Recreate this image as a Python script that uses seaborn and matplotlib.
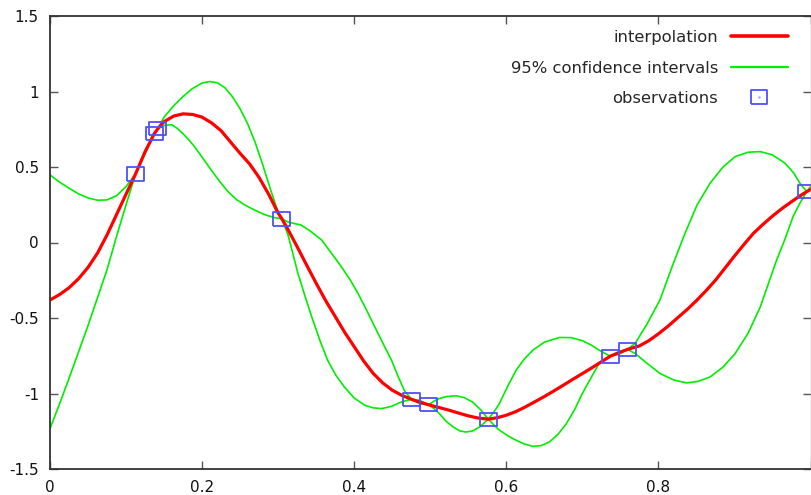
import matplotlib
matplotlib.use("Agg")
import matplotlib.pyplot as plt
import seaborn as sns
from matplotlib.lines import Line2D

# -----------------------------
# values
# -----------------------------
mean_x = [0, 0.0125, 0.025, 0.0375, 0.05, 0.0625, 0.075, 0.0875, 0.1, 0.1125, 0.125, 0.137,
          0.142, 0.15, 0.1625, 0.175, 0.1875, 0.2, 0.2125, 0.225, 0.2375, 0.25, 0.2625, 0.275,
          0.2875, 0.3, 0.305, 0.3125, 0.325, 0.3375, 0.35, 0.3625, 0.375, 0.3875, 0.4, 0.4125,
          0.425, 0.4375, 0.45, 0.4625, 0.475, 0.4865, 0.498, 0.5125, 0.525, 0.5375, 0.55,
          0.5625, 0.5765, 0.5875, 0.6, 0.6125, 0.625, 0.6375, 0.65, 0.6625, 0.675, 0.6875,
          0.7, 0.7125, 0.725, 0.7367, 0.748, 0.7594, 0.775, 0.7875, 0.8, 0.8125, 0.825,
          0.8375, 0.85, 0.8625, 0.875, 0.8875, 0.9, 0.9125, 0.925, 0.9375, 0.95, 0.9625,
          0.975, 0.985, 0.995, 1.0]
mean_y = [-0.381, -0.345, -0.30, -0.24, -0.165, -0.07, 0.05, 0.185, 0.32, 0.454, 0.60, 0.72,
          0.755, 0.80, 0.837, 0.852, 0.848, 0.83, 0.792, 0.74, 0.665, 0.59, 0.52, 0.43,
          0.32, 0.195, 0.156, 0.09, -0.028, -0.15, -0.27, -0.385, -0.49, -0.595, -0.69, -0.785,
          -0.867, -0.93, -0.978, -1.012, -1.038, -1.058, -1.075, -1.094, -1.111, -1.13, -1.148,
          -1.162, -1.17, -1.161, -1.144, -1.12, -1.089, -1.055, -1.02, -0.983, -0.945, -0.906,
          -0.868, -0.83, -0.79, -0.753, -0.73, -0.708, -0.685, -0.65, -0.605, -0.555, -0.50,
          -0.445, -0.385, -0.32, -0.25, -0.17, -0.09, -0.013, 0.061, 0.12, 0.175, 0.225,
          0.27, 0.305, 0.337, 0.35]

upper_x = [0, 0.0125, 0.025, 0.0375, 0.05, 0.0625, 0.075, 0.0875, 0.1, 0.1125, 0.125, 0.137,
           0.142, 0.15, 0.1625, 0.175, 0.1875, 0.2, 0.21, 0.22, 0.23, 0.24, 0.25, 0.26, 0.27,
           0.28, 0.29, 0.3, 0.305, 0.3125, 0.32, 0.33, 0.3425, 0.357, 0.37, 0.383, 0.395, 0.405,
           0.416, 0.427, 0.438, 0.449, 0.458, 0.466, 0.475, 0.4865, 0.498, 0.505, 0.512, 0.522,
           0.534, 0.545, 0.556, 0.567, 0.5765, 0.584, 0.591, 0.602, 0.613, 0.624, 0.635, 0.65,
           0.67, 0.685, 0.70, 0.712, 0.722, 0.7367, 0.748, 0.7594, 0.7695, 0.785, 0.802, 0.818,
           0.835, 0.851, 0.868, 0.885, 0.901, 0.918, 0.934, 0.95, 0.9665, 0.978, 0.986, 0.995, 1.0]
upper_y = [0.448, 0.40, 0.36, 0.322, 0.295, 0.28, 0.282, 0.31, 0.37, 0.454, 0.61, 0.72,
           0.755, 0.83, 0.905, 0.967, 1.02, 1.056, 1.066, 1.058, 1.025, 0.965, 0.885, 0.785, 0.66,
           0.51, 0.35, 0.2, 0.156, 0.137, 0.127, 0.116, 0.075, 0.017, -0.07, -0.16, -0.25, -0.337,
           -0.445, -0.558, -0.67, -0.779, -0.89, -0.98, -1.038, -1.046, -1.075, -1.05, -1.033, -1.02,
           -1.015, -1.028, -1.058, -1.111, -1.17, -1.12, -1.066, -0.95, -0.845, -0.77, -0.713, -0.66,
           -0.629, -0.63, -0.65, -0.68, -0.713, -0.753, -0.722, -0.708, -0.668, -0.54, -0.381, -0.16,
           0.061, 0.25, 0.393, 0.50, 0.569, 0.598, 0.602, 0.58, 0.525, 0.46, 0.393, 0.337, 0.352]

lower_x = [0, 0.0125, 0.025, 0.0375, 0.05, 0.0625, 0.075, 0.0875, 0.1, 0.1125, 0.125, 0.137,
           0.142, 0.15, 0.16, 0.1675, 0.175, 0.1825, 0.19, 0.2, 0.212, 0.223, 0.234, 0.245, 0.256,
           0.269, 0.282, 0.295, 0.305, 0.313, 0.326, 0.335, 0.344, 0.355, 0.365, 0.376, 0.387,
           0.4, 0.414, 0.425, 0.436, 0.449, 0.462, 0.475, 0.4865, 0.498, 0.505, 0.512, 0.521,
           0.530, 0.539, 0.547, 0.556, 0.565, 0.5765, 0.584, 0.591, 0.602, 0.613, 0.624, 0.635,
           0.646, 0.657, 0.668, 0.679, 0.69, 0.70, 0.711, 0.722, 0.7367, 0.748, 0.7594, 0.7695,
           0.785, 0.802, 0.82, 0.837, 0.852, 0.868, 0.885, 0.901, 0.918, 0.934, 0.9555, 0.967,
           0.977, 0.986, 0.995, 1.0]
lower_y = [-1.232, -1.07, -0.90, -0.725, -0.55, -0.365, -0.18, 0.04, 0.25, 0.454, 0.59, 0.72,
           0.755, 0.775, 0.78, 0.755, 0.72, 0.68, 0.635, 0.565, 0.48, 0.405, 0.337, 0.285, 0.249,
           0.215, 0.185, 0.165, 0.156, 0.05, -0.204, -0.35, -0.49, -0.65, -0.779, -0.88, -0.956,
           -1.03, -1.078, -1.095, -1.10, -1.085, -1.056, -1.038, -1.068, -1.075, -1.10, -1.133, -1.185,
           -1.221, -1.248, -1.255, -1.248, -1.221, -1.17, -1.21, -1.243, -1.28, -1.31, -1.335, -1.35,
           -1.345, -1.32, -1.27, -1.20, -1.105, -1.0, -0.90, -0.80, -0.753, -0.74, -0.708, -0.735,
           -0.80, -0.867, -0.91, -0.93, -0.92, -0.89, -0.825, -0.735, -0.60, -0.426, -0.116, 0.03,
           0.171, 0.26, 0.337, 0.37]

obs_x = [0.1125, 0.137, 0.142, 0.305, 0.475, 0.498, 0.5765, 0.7367, 0.7594, 0.995]
obs_y = [0.454, 0.72, 0.755, 0.156, -1.038, -1.075, -1.17, -0.753, -0.708, 0.337]

xticks = [0, 0.2, 0.4, 0.6, 0.8, 1.0]
xtick_labels = ['0', '0.2', '0.4', '0.6', '0.8', '']
yticks = [-1.5, -1, -0.5, 0, 0.5, 1, 1.5]
ytick_labels = ['-1.5', '-1', '-0.5', '0', '0.5', '1', '1.5']

labels = ['interpolation', '95% confidence intervals', 'observations']

RED = '#ff0000'
GREEN = '#00ee00'
BLUE = '#4f4fff'
AXIS = '#333333'

# -----------------------------
# plot
# -----------------------------
sns.set_style("ticks")
plt.rcParams['font.family'] = ['DejaVu Sans']

fig = plt.figure(figsize=(8.11, 4.95), dpi=100)
ax = fig.add_axes([50 / 811, 26 / 495, 760.5 / 811, 453 / 495])

sns.lineplot(x=upper_x, y=upper_y, ax=ax, color=GREEN, linewidth=1.2, sort=False, estimator=None)
sns.lineplot(x=lower_x, y=lower_y, ax=ax, color=GREEN, linewidth=1.2, sort=False, estimator=None)
sns.lineplot(x=mean_x, y=mean_y, ax=ax, color=RED, linewidth=2.3, sort=False, estimator=None)

# box marker, a bit wider than tall like the original
box = [(-1, -0.78), (1, -0.78), (1, 0.78), (-1, 0.78), (-1, -0.78)]
sns.scatterplot(x=obs_x, y=obs_y, ax=ax, marker=box, s=150, facecolor='none',
                edgecolor=BLUE, linewidth=1.3, zorder=5)

ax.set_xlim(0, 1)
ax.set_ylim(-1.5, 1.5)
ax.set_xticks(xticks)
ax.set_xticklabels(xtick_labels)
ax.set_yticks(yticks)
ax.set_yticklabels(ytick_labels)
ax.tick_params(direction='in', length=5.5, width=1, color='#555555', labelsize=11,
               top=True, right=True, pad=8, labelcolor='#111111')
for side in ['left', 'bottom', 'top']:
    ax.spines[side].set_color(AXIS)
    ax.spines[side].set_linewidth(1.3)
ax.spines['right'].set_color('#aaaaaa')
ax.spines['right'].set_linewidth(1)
ax.set_xlabel('')
ax.set_ylabel('')

h_red = Line2D([], [], color=RED, linewidth=2.6)
h_green = Line2D([], [], color=GREEN, linewidth=1.6)
h_box = Line2D([], [], linestyle='none', marker=box, markersize=12.2,
               markerfacecolor='none', markeredgecolor=BLUE, markeredgewidth=1.3)
h_dot = Line2D([], [], linestyle='none', marker='s', markersize=1.5,
               markerfacecolor='#9090ff', markeredgecolor='none')
ax.legend([h_red, h_green, (h_box, h_dot)], labels, loc='upper right',
          bbox_to_anchor=(738 / 760.5, 1 - 14 / 453), markerfirst=False, frameon=False,
          handlelength=3.5, handletextpad=0.75, labelspacing=0.95, borderpad=0,
          borderaxespad=0, numpoints=1, fontsize=11.8)

fig.savefig("out.png", dpi=100)
